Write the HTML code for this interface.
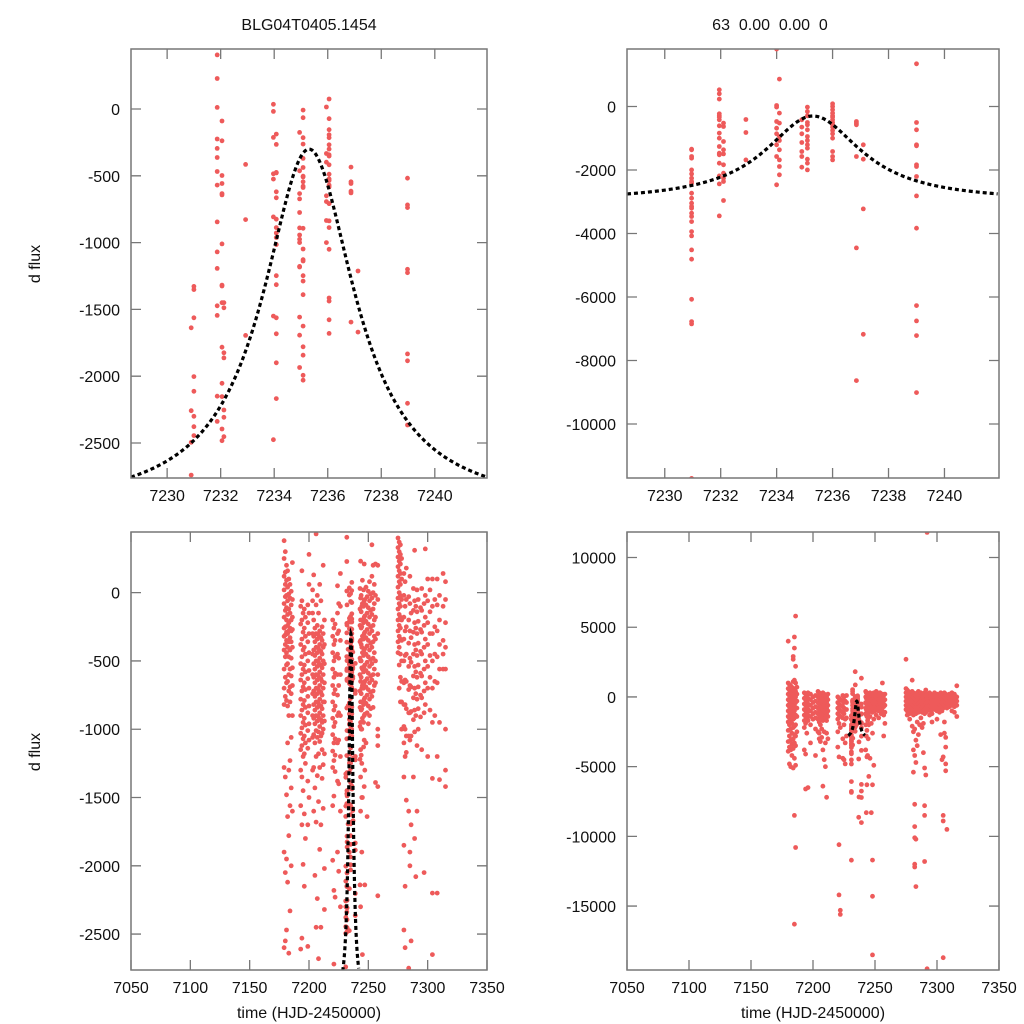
<!DOCTYPE html>
<html><head><meta charset="utf-8"><style>
body{margin:0;background:#fff;}
svg{display:block;font-family:"Liberation Sans",sans-serif;}
</style></head><body>
<svg id="chart" width="1024" height="1024" viewBox="0 0 1024 1024" xmlns="http://www.w3.org/2000/svg">
<rect width="1024" height="1024" fill="#fff"/>
<text x="309" y="30" font-size="16" text-anchor="middle" fill="#111">BLG04T0405.1454</text>
<text x="770" y="30" font-size="16" text-anchor="middle" fill="#111" xml:space="preserve">63  0.00  0.00  0</text>
<text transform="translate(40,264) rotate(-90)" font-size="16" text-anchor="middle" fill="#111">d flux</text>
<text transform="translate(40,752) rotate(-90)" font-size="16" text-anchor="middle" fill="#111">d flux</text>
<text x="309" y="1018" font-size="16" text-anchor="middle" fill="#111">time (HJD-2450000)</text>
<text x="813" y="1018" font-size="16" text-anchor="middle" fill="#111">time (HJD-2450000)</text>
</svg>
<script>
// ---- Model parameters (Lorentzian-like peak fit) ----
const modelPeakTime = [7235.3];
const modelBaseline = [-3000];
const modelAmplitude = [2700];
const modelWidth = [2.1];

// ---- Dataset A (left panels): nights and flux values ----
const nightsA = [7179,7180,7181,7182,7183,7184,7185,7186,7193,7194,7195,7196,7197,7199,7200,7203,7204,7205,7206,7207,7208,7209,7210,7211,7212,7213,7220,7221,7222,7224,7225,7226.5,
7230.9,7231.0,7231.87,7232.05,7232.12,7232.93,7233.97,7234.08,7234.95,7235.08,7235.95,7236.05,7236.87,7237.13,7238.98,
7243.5,7244.5,7246.5,7243,7244,7245,7246,7247,7248,7249,7250,7251,7252,7253,7254,7255,7256,7258,
7275,7276,7277,7278,7280,7281,7282,7284,7285,7286,7288,7289,7290,7291,7292,7294,7295,7297,7298,7300,7302,7304,7306,7308,7310,7313,7315];
const fluxA = [
[380,250,120,20,-80,-180,-260,-320,-420,-560,-700,-820,-1280,-1900,-2600],
[300,150,60,-30,-130,-250,-310,-380,-470,-620,-760,-1350,-2050,-2550],
[200,90,-20,-110,-200,-290,-350,-440,-530,-660,-790,-1480,-1950,-2470],
[160,40,-60,-160,-240,-300,-400,-520,-650,-830,-1100,-1640,-2120],
[100,-10,-120,-220,-280,-360,-470,-600,-720,-900,-1300,-1780,-2640],
[60,-40,-150,-260,-330,-420,-560,-690,-800,-1230,-1560,-2330],
[10,-90,-200,-280,-360,-480,-610,-740,-1060,-1430,-2000],
[220,-50,-180,-270,-400,-550,-680,-900,-1600],
[-100,-230,-380,-520,-640,-780,-900,-1030,-1150,-1300,-1560,-2610],
[160,-60,-200,-340,-470,-600,-720,-860,-990,-1120,-1350,-1700,-2530],
[-150,-290,-420,-560,-690,-820,-950,-1070,-1200,-1450,-1990],
[-120,-260,-400,-530,-660,-790,-920,-1050,-1180,-1620,-2150],
[-180,-320,-450,-580,-710,-840,-970,-1100,-1250,-1800],
[-90,-220,-360,-500,-630,-760,-880,-1010,-1140,-1380,-1700,-2590],
[280,60,-150,-300,-440,-570,-700,-830,-960,-1080,-1500],
[20,-60,-150,-300,-450,-600,-740,-900,-1060,-1300],
[130,-200,-320,-420,-520,-620,-720,-820,-920,-1040,-1280,-1600],
[-260,-360,-460,-560,-660,-760,-860,-960,-1100,-1430,-2070],
[430,-90,-300,-400,-500,-600,-700,-800,-900,-1010,-1200,-1680,-2450],
[-20,-240,-340,-440,-540,-640,-740,-840,-940,-1060,-1340,-2240],
[-150,-310,-410,-510,-610,-710,-810,-910,-1020,-1180,-1530,-2680],
[60,-280,-380,-480,-580,-680,-780,-880,-980,-1090,-1280,-1880],
[-60,-330,-430,-530,-630,-730,-830,-930,-1050,-1700,-2450],
[-250,-350,-450,-550,-650,-750,-850,-950,-1030,-1150,-1360],
[200,-300,-400,-500,-600,-700,-800,-900,-1000,-1260,-1580],
[-200,-380,-520,-660,-800,-940,-1180,-2020,-2320],
[-200,-320,-440,-560,-680,-800,-920,-1040,-1160,-1280,-1560,-1960],
[-260,-380,-500,-620,-740,-860,-980,-1100,-1230,-1490,-2180,-2720],
[-230,-350,-470,-590,-710,-830,-950,-1070,-1190,-1310,-2230],
[50,-150,-300,-450,-600,-750,-900,-1100,-1380,-1900],
[-80,-280,-480,-680,-880,-1080,-1400,-2040],
[140,-100,-350,-600,-900,-1200,-1600,-2300],
[-1638,-2258,-2495,-2740],
[-1328,-1352,-1563,-2003,-2113,-2300,-2378,-2445],
[405,228,12,-225,-295,-363,-468,-570,-845,-1070,-1193,-1473,-1545,-2150,-2338],
[-90,-238,-498,-558,-633,-643,-1010,-1318,-1325,-1450,-1783,-2053,-2153,-2395,-2483],
[-1450,-1488,-1825,-1863,-2253,-2308,-2453],
[-415,-828,-1695],
[35,-18,-213,-525,-485,-808,-1550,-2475],
[-188,-265,-478,-475,-620,-665,-825,-888,-928,-963,-1015,-1248,-1315,-1563,-1683,-1900,-2168],
[-175,-463,-633,-673,-775,-890,-943,-975,-1000,-1178,-1183,-1558,-1693,-1935],
[-8,-65,-215,-263,-370,-438,-503,-508,-545,-578,-588,-893,-1048,-1128,-1138,-1248,-1288,-1390,-1625,-1780,-1843,-1993,-2030],
[15,-333,-398,-650,-693,-835,-1000],
[75,-73,-155,-193,-215,-268,-300,-353,-343,-418,-488,-523,-535,-570,-583,-708,-708,-838,-888,-1050,-1415,-1438,-1578,-1680],
[-435,-545,-558,-615,-628,-1595],
[-1213,-1670],
[-518,-718,-738,-1200,-1225,-1833,-1885,-2203,-2365],
[230,-40,-200,-350,-500,-650,-800,-950,-1150,-1350,-1600,-2300],
[-100,-250,-400,-550,-700,-850,-1000,-1250,-1500,-1900],
[210,-60,-180,-300,-420,-540,-660,-780,-900,-1080,-1420],
[30,-120,-240,-360,-480,-600,-720,-840,-980,-1220,-2140],
[-20,-140,-260,-380,-500,-620,-740,-860,-1000,-1190],
[90,-80,-200,-320,-440,-560,-680,-800,-920,-1500,-2650],
[20,-100,-220,-340,-460,-580,-700,-820,-950,-1130],
[-50,-170,-290,-410,-530,-650,-770,-890,-1300,-2140],
[40,-90,-210,-330,-450,-570,-690,-810,-1100],
[-30,-150,-270,-390,-510,-630,-750,-880,-1640],
[10,-110,-230,-350,-470,-590,-710,-830,-960],
[80,-60,-180,-300,-420,-540,-660,-780,-900],
[-10,-130,-250,-370,-490,-610,-730,-850],
[350,120,-40,-160,-280,-400,-520,-640,-760],
[200,0,-120,-240,-360,-480,-600,-720,-840],
[60,-80,-200,-320,-440,-560,-680],
[210,-20,-180,-340,-500,-660,-1390],
[200,-50,-300,-600,-1000,-1050,-1120,-1420,-2220],
[400,330,260,190,120,40,-40,-120,-200,-280,-360,-440],
[370,300,230,160,80,0,-80,-160,-240,-320,-400,-530,-700],
[350,280,210,140,60,-20,-100,-180,-260,-340,-450,-620,-800],
[250,100,-50,-200,-350,-500,-650,-800,-1000],
[140,-20,-180,-340,-500,-660,-820,-980,-1100,-1350,-1850,-2470],
[80,-100,-280,-460,-640,-820,-1000,-1200,-2150,-2600],
[180,-50,-250,-450,-650,-850,-1050,-1170,-1520],
[-30,-200,-370,-540,-710,-880,-1050,-1600,-2750],
[120,-80,-280,-480,-680,-880,-1080,-1900,-2000],
[-150,-330,-510,-690,-870,-1050,-1700,-2550],
[30,-130,-290,-450,-610,-770,-930,-1350],
[310,-60,-220,-380,-540,-700,-860,-1020,-1800],
[-100,-260,-420,-580,-740,-900,-2080],
[20,-140,-300,-460,-620,-780,-1120,-1600],
[-50,-210,-370,-530,-690,-850,-1000],
[-110,-270,-430,-590,-750,-910],
[30,-130,-290,-450,-610,-770,-1150],
[-80,-240,-400,-560,-720,-880,-2050],
[320,-20,-180,-340,-500,-660,-820],
[100,-60,-220,-380,-540,-700,-1200],
[20,-140,-300,-460,-620,-860],
[100,-100,-300,-500,-700,-950,-1360,-2200,-2650],
[-50,-250,-450,-650,-900],
[100,-90,-280,-470,-660,-1200,-2200],
[-20,-200,-380,-560,-950,-1370],
[140,-100,-350,-450,-560],
[80,-50,-220,-400,-560,-1000,-1300,-1420]
];

// ---- Dataset B (right panels): nights and flux values ----
const nightsB = [7180,7181,7182,7183,7184,7185,7186,7187,7193,7194,7195,7196,7198,7200,7202,7204,7205,7206,7207,7208,7209,7210,7211,7212,7220,7221,7222,7224,7225,7227,7226,
7230.96,7231.95,7232.1,7232.9,7234.0,7234.1,7234.9,7235.1,7236.0,7236.85,7237.1,7239.0,
7243.5,7244.5,7242.5,7243,7244,7245,7246,7247,7248,7249,7250,7251,7252,7253,7254,7255,7256,7257,7258,
7275,7276,7277,7278,7279,7280,7281,7282,7283,7284,7285,7286,7287,7288,7289,7290,7291,7292,7294,7295,7296,7298,7300,7302,7303,7304,7305,7306,7307,7308,7310,7312,7314,7316];
const fluxB = [
[1000,600,200,-200,-600,-1000,-1400,-1800,-2400,-3200,-3900,4000],
[900,500,100,-300,-700,-1100,-1500,-2000,-2800,-3600,-4800],
[800,400,0,-400,-800,-1200,-1700,-2300,-3100,-3800,-5000],
[700,300,-100,-500,-900,-1300,-1900,-2600,-3400,-4200],
[1100,500,100,-300,-700,-1100,-1600,-2200,-3000,-3700,-5100,2900,2700],
[1200,600,200,-200,-600,-1000,-1500,-2100,-2700,-3300,-4400,-8500,-16300,4300,3500],
[1000,400,0,-400,-800,-1300,-2000,-2800,-3500,-4900,-10800,5800,2200],
[700,200,-300,-800,-1400,-2500],
[300,-100,-500,-900,-1300,-1700,-2200,-3800],
[200,-200,-600,-1000,-1400,-1900,-4100,-6600],
[100,-300,-700,-1100,-1500,-2600],
[300,-100,-500,-900,-1300,-1700,-6500],
[200,-200,-600,-1000,-1400,-2000,-3300],
[0,-400,-800,-1200,-1600],
[100,-300,-700,-1100,-1500,-2300,-4200],
[400,0,-400,-800,-1200,-1600,-2500],
[300,-100,-500,-900,-1300,-1800,-2600,-3000],
[200,-200,-600,-1000,-1400,-2000,-3200],
[100,-300,-700,-1100,-1500,-2300,-2900],
[300,-100,-500,-900,-1300,-1700,-3800,-6400],
[200,-200,-600,-1000,-1400,-2500,-4500],
[100,-300,-700,-1100,-1500,-3300,-5000],
[0,-400,-800,-1200,-1700,-2600,-7200],
[200,-200,-600,-1000,-1400,-3000],
[0,-400,-800,-1200,-1600,-2500,-3600],
[-100,-500,-900,-1300,-1900,-4300,-10600,-14200],
[-200,-600,-1000,-1400,-2200,-15300,-15600],
[100,-300,-700,-1100,-1500,-3000,-4400],
[0,-400,-800,-1200,-2000,-4500],
[100,-400,-900,-1500,-2800],
[-300,-900,-1600,-3300,-4800],
[-1345,-1365,-1628,-1575,-1996,-2122,-2258,-2363,-2416,-2731,-2889,-3046,-3151,-3204,-3361,-3466,-3624,-3939,-4075,-4517,-4811,-6071,-6775,-6848,-11712],
[525,399,231,-231,-294,-336,-420,-609,-840,-998,-1260,-1470,-1523,-1786,-2185,-2437,-3445],
[-525,-630,-1103,-1365,-1492,-1838,-2101,-2258,-2363,-2962],
[-410,-819,-1681],
[1807,32,-21,-473,-683,-861,-1208,-1575,-2468],
[861,-210,-525,-945,-1071,-1365,-1681,-1891,-2153],
[-420,-651,-861,-1134,-1418,-1575,-1912],
[-21,-158,-294,-504,-578,-735,-945,-1071,-1208,-1313,-1660,-1786,-1996],
[84,0,-105,-210,-294,-336,-420,-504,-578,-651,-756,-861,-998,-1418,-1575,-1681],
[-473,-578,-525,-1575,-4454,-8634],
[-1208,-1660,-3225,-7174],
[1345,-504,-735,-1208,-1239,-1838,-1891,-2206,-2815,-3834,-6271,-6754,-7216,-9012],
[300,-100,-500,-900,-1400,-2400,-4300,-6300],
[200,-200,-600,-1000,-1500,-3000],
[400,0,-400,-800,-1200,-2000,-3800],
[300,-100,-500,-900,-1300,-2800,-8300],
[200,-200,-600,-1000,-1700,-4200],
[100,-300,-700,-1100,-2000,-5700],
[300,-100,-500,-900,-1400,-4400],
[200,-200,-600,-1000,-1900,-8300],
[100,-300,-700,-1100,-2600,-6300,-11700,-14300,-18500],
[300,-100,-500,-900,-1600,-4900],
[200,-200,-600,-1000],
[400,0,-400,-800,-1300],
[300,-100,-500,-900],
[200,-200,-600,-1000,-1500],
[300,-100,-500,-900],
[100,-300,-700,-1200],
[1000,200,-200,-600,-1000],
[100,-300,-700,-1300,-2800],
[200,-200,-600,-1100,-1900],
[2700,600,300,0,-300,-600,-900],
[500,200,-100,-400,-700,-1000,-1300],
[400,100,-200,-500,-800,-1100],
[300,0,-300,-600,-900,-1200,-1600],
[200,-100,-400,-700,-1000],
[1200,400,100,-200,-500,-800,-1100,-2100],
[300,0,-300,-600,-900,-1300,-2500,-3800,-5400],
[200,-100,-400,-700,-1000,-2300,-4200,-7700,-9300,-10100,-12000,-12200],
[100,-200,-500,-800,-1200,-3100,-4700,-10200,-13600],
[300,0,-300,-600,-900,-1800,-3500],
[400,100,-200,-500,-800,-1100,-2700],
[200,-100,-400,-700,-1000,-2000],
[300,0,-300,-600,-900,-1500],
[100,-200,-500,-800,-1100,-2200],
[200,-100,-400,-700,-1000,-1900,-4000],
[300,0,-300,-600,-900,-1200,-5100,-7800,-8500,-11800],
[500,100,-200,-500,-800,-1100,-5600],
[200,-100,-400,-700,-1000,11800,-19500],
[300,0,-300,-600,-900,-1300],
[200,-100,-400,-700,-1000],
[100,-200,-500,-800,-1200,-1800],
[300,0,-300,-600,-900],
[200,-100,-400,-700,-1000,-1600],
[100,-200,-500,-800,-1100],
[300,0,-300,-600,-900,-2700],
[200,-100,-400,-700,-1000,-4500],
[100,-200,-500,-800,-4300,-8500,-8900,-18700],
[300,0,-300,-600,-1800,-2600],
[200,-100,-400,-700,-2900,-3600,-4800,-5300],
[100,-200,-500,-800,-9500],
[200,-100,-400,-700],
[300,0,-300,-600,-1000],
[200,-100,-400,-700,-1100],
[800,0,-300,-600,-1400]
];

// ---- Axis tick labels ----
const zoomXTicks = [7230,7232,7234,7236,7238,7240];
const fullXTicks = [7050,7100,7150,7200,7250,7300,7350];
const tlYTicks = [0,-500,-1000,-1500,-2000,-2500];
const trYTicks = [0,-2000,-4000,-6000,-8000,-10000];
const blYTicks = [0,-500,-1000,-1500,-2000,-2500];
const brYTicks = [10000,5000,0,-5000,-10000,-15000];

const NS = 'http://www.w3.org/2000/svg';
const svg = document.getElementById('chart');
function mk(tag, attrs, parent){ const e=document.createElementNS(NS,tag); for(const k in attrs) e.setAttribute(k,attrs[k]); (parent||svg).appendChild(e); return e; }

function model(t){ const d=(t-modelPeakTime[0])/modelWidth[0]; return modelBaseline[0]+modelAmplitude[0]/(1+d*d); }

const panels = [
 {id:'top-left', x0:131,x1:487,y0:49,y1:478, xd:[7228.65,7241.95], yd:[449,-2762], xt:zoomXTicks, yt:tlYTicks, nights:nightsA, flux:fluxA},
 {id:'top-right', x0:627,x1:999,y0:49,y1:478, xd:[7228.65,7241.95], yd:[1810,-11700], xt:zoomXTicks, yt:trYTicks, nights:nightsB, flux:fluxB},
 {id:'bottom-left', x0:131,x1:487,y0:532,y1:970, xd:[7050,7350], yd:[444,-2763], xt:fullXTicks, yt:blYTicks, nights:nightsA, flux:fluxA},
 {id:'bottom-right', x0:627,x1:999,y0:532,y1:970, xd:[7050,7350], yd:[11830,-19585], xt:fullXTicks, yt:brYTicks, nights:nightsB, flux:fluxB}
];

panels.forEach(function(p){
  const sx = t => p.x0 + (t-p.xd[0])/(p.xd[1]-p.xd[0])*(p.x1-p.x0);
  const sy = f => p.y0 + (p.yd[0]-f)/(p.yd[0]-p.yd[1])*(p.y1-p.y0);
  const g = mk('g',{});
  
  
  const cp = mk('clipPath',{id:'clip-'+p.id}, g);
  mk('rect',{x:p.x0,y:p.y0,width:p.x1-p.x0,height:p.y1-p.y0}, cp);
  p.xt.forEach(function(v){
    const x=sx(v);
    const tk=mk('path',{d:'M'+x+' '+p.y1+'v-10M'+x+' '+p.y0+'v10',stroke:'#777','stroke-width':1.3,fill:'none'},g);
    
    
    const lb=mk('text',{x:x,y:p.y1+23,'font-size':16,'text-anchor':'middle',fill:'#111'},g);
    
    
    lb.textContent=v;
  });
  p.yt.forEach(function(v){
    const y=sy(v);
    const tk=mk('path',{d:'M'+p.x0+' '+y+'h10M'+p.x1+' '+y+'h-10',stroke:'#777','stroke-width':1.3,fill:'none'},g);
    
    
    const lb=mk('text',{x:p.x0-11,y:y+6,'font-size':16,'text-anchor':'end',fill:'#111'},g);
    
    
    lb.textContent=v;
  });
  const pg=mk('g',{'clip-path':'url(#clip-'+p.id+')',fill:'#ee5a5a'},g);
  
  
  p.nights.forEach(function(t,i){
    p.flux[i].forEach(function(f){
      const c=mk('circle',{cx:sx(t).toFixed(1),cy:sy(f).toFixed(1),r:2.4},pg);
      
      
    });
  });
  let d='';
  for(let k=0;k<=200;k++){
    const t=7228.4+k*(7241.9-7228.4)/200;
    d+=(k?'L':'M')+sx(t).toFixed(2)+' '+sy(model(t)).toFixed(2);
  }
  const cv=mk('path',{d:d,fill:'none',stroke:'#000','stroke-width':3.2,'stroke-dasharray':'4 3','clip-path':'url(#clip-'+p.id+')'},g);
  
  
  const fr=mk('rect',{x:p.x0,y:p.y0,width:p.x1-p.x0,height:p.y1-p.y0,fill:'none',stroke:'#777','stroke-width':1.5},g);
  
  
});
</script>
</body></html>
